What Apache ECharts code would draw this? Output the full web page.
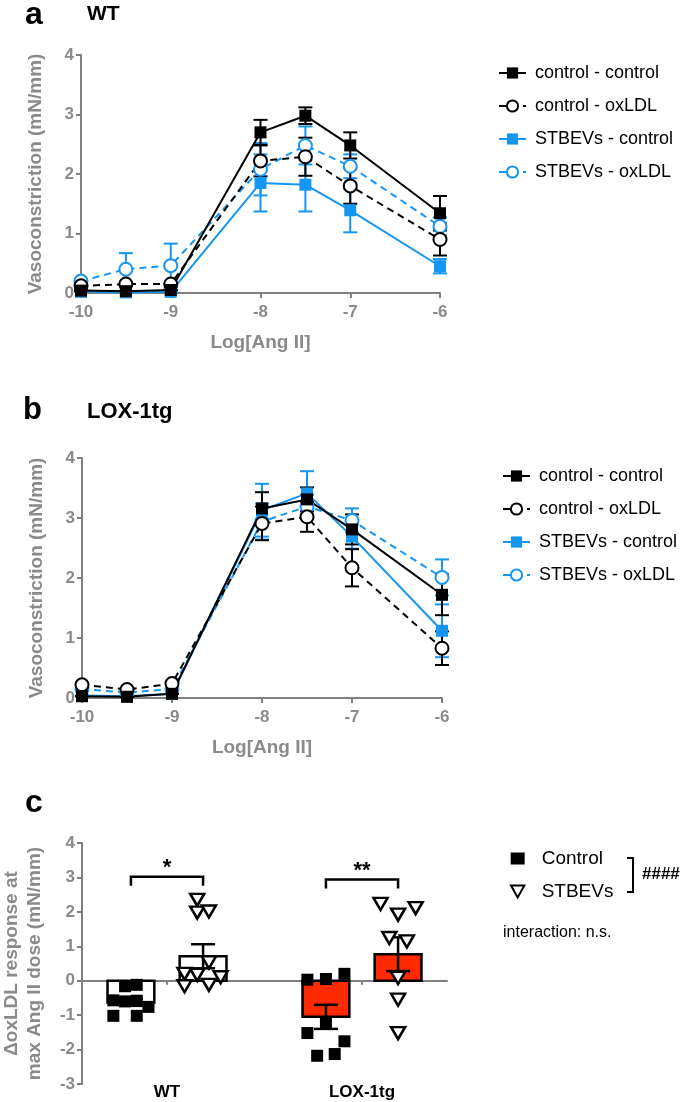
<!DOCTYPE html>
<html lang="en">
  <head>
    <meta charset="utf-8" />
    <title>Vasoconstriction – WT / LOX-1tg</title>
    <style>
      * {
        margin: 0;
        padding: 0;
      }
      body {
        background: #fff;
      }
      #chart-container {
        width: 685px;
        height: 1102px;
      }
    </style>
  </head>

  <body>
    <div id="chart-container"></div>
    <script src="https://cdn.jsdelivr.net/npm/echarts@6/dist/echarts.min.js"></script>
    <script>
      // ---- data ----
      var doses = [-10, -9.5, -9, -8, -7.5, -7, -6];
      var seriesNames = ["control - control", "control - oxLDL", "STBEVs - control", "STBEVs - oxLDL"];

      // panel a: WT
      var wtCC = [0.04, 0.03, 0.05, 2.7, 2.98, 2.48, 1.34];
      var wtCCErr = [0, 0, 0, 0.21, 0.14, 0.22, 0.29];
      var wtCO = [0.12, 0.15, 0.15, 2.22, 2.29, 1.8, 0.9];
      var wtCOErr = [0, 0, 0, 0.26, 0.32, 0.3, 0.27];
      var wtSC = [0.02, 0.01, 0.02, 1.85, 1.82, 1.39, 0.45];
      var wtSCErr = [0, 0, 0, 0.48, 0.45, 0.37, 0.12];
      var wtSO = [0.2, 0.4, 0.46, 2.08, 2.48, 2.13, 1.12];
      var wtSOErr = [0, 0.27, 0.37, 0.44, 0.32, 0.2, 0.15];

      // panel b: LOX-1tg
      var lxCC = [0.03, 0.02, 0.07, 3.16, 3.31, 2.81, 1.72];
      var lxCCErr = [0, 0, 0, 0.27, 0.2, 0.25, 0.34];
      var lxCO = [0.22, 0.14, 0.24, 2.91, 3.02, 2.17, 0.83];
      var lxCOErr = [0, 0, 0, 0.28, 0.25, 0.31, 0.28];
      var lxSC = [0.04, 0.03, 0.07, 3.13, 3.41, 2.69, 1.12];
      var lxSCErr = [0, 0, 0, 0.44, 0.37, 0.2, 0.44];
      var lxSO = [0.15, 0.09, 0.15, 2.94, 3.19, 2.96, 2.01];
      var lxSOErr = [0, 0, 0, 0.3, 0.2, 0.2, 0.3];

      // panel c: delta oxLDL response
      var groups = ["WT", "LOX-1tg"];
      var groupPos = [1, 3];
      var conditions = ["Control", "STBEVs"];
      var condOffset = [-0.37, 0.37];
      var controlMean = [-0.63, -1.05];
      var controlSem = [0.1, 0.35];
      var stbevMean = [0.71, 0.77];
      var stbevSem = [0.35, 0.49];
      // [horizontal jitter, value]
      var wtControlPts = [[-0.06, -0.16], [0.06, -0.12], [-0.18, -0.57], [-0.06, -0.6], [0.06, -0.58], [0.18, -0.76], [-0.18, -1.02], [0.06, -1.02]];
      var wtStbevPts = [[-0.06, 2.35], [-0.06, 1.98], [0.06, 2.01], [0.06, 0.53], [-0.19, 0.2], [-0.06, 0.17], [0.18, 0.1], [-0.19, -0.16], [0.06, -0.12]];
      var lxControlPts = [[-0.19, 0.03], [0, 0.05], [0.19, 0.2], [0, -1.23], [-0.19, -1.52], [0.19, -1.76], [-0.09, -2.18], [0.09, -2.13]];
      var lxStbevPts = [[-0.18, 2.23], [0.18, 2.11], [0, 1.92], [-0.09, 1.24], [0.09, 1.14], [0, 0.08], [0, -0.55], [0, -1.52]];
      var sigHeights = [3.02, 2.94];
      var sigLabels = ["*", "**"];

      // ---- styles ----
      var FONT = "Liberation Sans, Arial, Helvetica, sans-serif";
      var GRAY = "#808080";
      var LABEL_GRAY = "#8a8a8a";
      var BLUE = "#1596f2";
      var groupFill = { WT: "#ffffff", "LOX-1tg": "#ff2a00" };
      var barHalf = 0.24;

      var dom = document.getElementById("chart-container");
      var myChart = echarts.init(dom, null, { renderer: "canvas" });

      function errRender(color) {
        return function (params, api) {
          var x = api.value(0);
          var p = api.coord([x, api.value(2)]);
          var q = api.coord([x, api.value(1)]);
          var w = 7;
          var st = { stroke: color, lineWidth: 2 };
          return {
            type: "group",
            children: [
              { type: "line", shape: { x1: p[0], y1: p[1], x2: q[0], y2: q[1] }, style: st },
              { type: "line", shape: { x1: p[0] - w, y1: p[1], x2: p[0] + w, y2: p[1] }, style: st },
              { type: "line", shape: { x1: q[0] - w, y1: q[1], x2: q[0] + w, y2: q[1] }, style: st },
            ],
          };
        };
      }

      function panelSeries(idx, sets) {
        var out = [];
        // draw blue first, black on top
        [3, 2, 1, 0].forEach(function (k) {
          var s = sets[k];
          var color = k < 2 ? "#000" : BLUE;
          var open = k % 2 === 1;
          out.push({
            type: "custom",
            xAxisIndex: idx,
            yAxisIndex: idx,
            z: 2,
            renderItem: errRender(color),
            encode: { x: 0, y: [1, 2] },
            data: doses.map(function (d, i) {
              return [d, s[0][i] - s[1][i], s[0][i] + s[1][i]];
            }),
          });
          out.push({
            name: seriesNames[k],
            type: "line",
            xAxisIndex: idx,
            yAxisIndex: idx,
            z: 3,
            symbol: open ? "circle" : "rect",
            symbolSize: open ? 13 : 12,
            showAllSymbol: true,
            lineStyle: { color: color, width: 2, type: open ? [7, 5] : "solid" },
            itemStyle: open
              ? { color: "#fff", borderColor: color, borderWidth: 2 }
              : { color: color, borderWidth: 0 },
            data: doses.map(function (d, i) {
              return [d, s[0][i]];
            }),
          });
        });
        return out;
      }

      var axisLineStyle = { lineStyle: { color: GRAY, width: 2 } };
      var tickLabel = { color: LABEL_GRAY, fontWeight: "bold", fontSize: 17, fontFamily: FONT };
      var nameText = { color: LABEL_GRAY, fontWeight: "bold", fontSize: 19, fontFamily: FONT };

      function doseAxis(idx) {
        return {
          gridIndex: idx,
          type: "value",
          min: -10,
          max: -6,
          interval: 1,
          name: "Log[Ang II]",
          nameLocation: "middle",
          nameGap: 40,
          nameTextStyle: nameText,
          axisLine: axisLineStyle,
          axisTick: { lineStyle: { color: GRAY, width: 2 }, length: 5 },
          axisLabel: Object.assign({ margin: 11 }, tickLabel),
          splitLine: { show: false },
        };
      }

      function vasoAxis(idx) {
        return {
          gridIndex: idx,
          type: "value",
          min: 0,
          max: 4,
          interval: 1,
          name: "Vasoconstriction (mN/mm)",
          nameLocation: "middle",
          nameGap: 36,
          nameTextStyle: nameText,
          axisLine: { show: true, onZero: false, lineStyle: { color: GRAY, width: 2 } },
          axisTick: { show: true, lineStyle: { color: GRAY, width: 2 }, length: 5 },
          axisLabel: Object.assign({ margin: 7 }, tickLabel),
          splitLine: { show: false },
        };
      }

      var cMin = 1 - 85 / 97.5;
      var cMax = 3 + 85 / 97.5;

      // bars + sem for panel c
      var barData = [];
      groups.forEach(function (g, gi) {
        barData.push([groupPos[gi] + condOffset[0], controlMean[gi], controlSem[gi], gi]);
        barData.push([groupPos[gi] + condOffset[1], stbevMean[gi], stbevSem[gi], gi]);
      });

      function renderBar(params, api) {
        var x = api.value(0);
        var m = api.value(1);
        var s = api.value(2);
        var g = groups[api.value(3)];
        var a = api.coord([x - barHalf, 0]);
        var b = api.coord([x + barHalf, m]);
        var top = api.coord([x, m + s]);
        var bot = api.coord([x, m - s]);
        var w = 12;
        var st = { stroke: "#000", lineWidth: 2.5 };
        return {
          type: "group",
          children: [
            {
              type: "rect",
              shape: { x: a[0], y: Math.min(a[1], b[1]), width: b[0] - a[0], height: Math.abs(b[1] - a[1]) },
              style: { fill: groupFill[g], stroke: "#000", lineWidth: 2.5 },
            },
            { type: "line", shape: { x1: top[0], y1: top[1], x2: bot[0], y2: bot[1] }, style: st },
            { type: "line", shape: { x1: top[0] - w, y1: top[1], x2: top[0] + w, y2: top[1] }, style: st },
            { type: "line", shape: { x1: bot[0] - w, y1: bot[1], x2: bot[0] + w, y2: bot[1] }, style: st },
          ],
        };
      }

      function renderSig(params, api) {
        var gx = api.value(0);
        var h = api.value(1);
        var p1 = api.coord([gx + condOffset[0], h - 0.26]);
        var p2 = api.coord([gx + condOffset[0], h]);
        var p3 = api.coord([gx + condOffset[1], h]);
        var p4 = api.coord([gx + condOffset[1], h - 0.26]);
        var mid = api.coord([gx, h]);
        return {
          type: "group",
          children: [
            {
              type: "polyline",
              shape: { points: [p1, p2, p3, p4] },
              style: { stroke: "#000", lineWidth: 2.5, fill: null },
            },
            {
              type: "text",
              x: mid[0],
              y: mid[1] + 2,
              style: {
                text: sigLabels[params.dataIndex],
                fontSize: 22,
                fontWeight: "bold",
                fontFamily: FONT,
                fill: "#000",
                align: "center",
                verticalAlign: "bottom",
              },
            },
          ],
        };
      }

      function placePts(pts, gi, ci) {
        return pts.map(function (p) {
          return [groupPos[gi] + condOffset[ci] + p[0], p[1]];
        });
      }

      var legendText = { fontSize: 18, fontFamily: FONT, color: "#000", padding: [0, 0, 0, 4] };

      var series = []
        .concat(panelSeries(0, [[wtCC, wtCCErr], [wtCO, wtCOErr], [wtSC, wtSCErr], [wtSO, wtSOErr]]))
        .concat(panelSeries(1, [[lxCC, lxCCErr], [lxCO, lxCOErr], [lxSC, lxSCErr], [lxSO, lxSOErr]]))
        .concat([
          {
            type: "custom",
            xAxisIndex: 2,
            yAxisIndex: 2,
            z: 2,
            renderItem: renderBar,
            encode: { x: 0, y: 1 },
            data: barData,
          },
          {
            name: conditions[0],
            type: "scatter",
            xAxisIndex: 2,
            yAxisIndex: 2,
            z: 4,
            symbol: "rect",
            symbolSize: 12,
            itemStyle: { color: "#000", opacity: 1 },
            data: placePts(wtControlPts, 0, 0).concat(placePts(lxControlPts, 1, 0)),
          },
          {
            name: conditions[1],
            type: "scatter",
            xAxisIndex: 2,
            yAxisIndex: 2,
            z: 4,
            symbol: "path://M0,0L10,0L5,9Z",
            symbolSize: [14, 12],
            itemStyle: { color: "#fff", borderColor: "#000", borderWidth: 2.5, opacity: 1 },
            data: placePts(wtStbevPts, 0, 1).concat(placePts(lxStbevPts, 1, 1)),
          },
          {
            type: "custom",
            xAxisIndex: 2,
            yAxisIndex: 2,
            z: 5,
            renderItem: renderSig,
            encode: { x: 0, y: 1 },
            data: groupPos.map(function (g, i) {
              return [g, sigHeights[i]];
            }),
          },
        ]);

      var option = {
        animation: false,
        backgroundColor: "#fff",
        grid: [
          { left: 81, top: 55, width: 359, height: 238, outerBoundsMode: "none" },
          { left: 82, top: 458, width: 360, height: 240, outerBoundsMode: "none" },
          { left: 82, top: 843, width: 365, height: 241, outerBoundsMode: "none" },
        ],
        xAxis: [
          doseAxis(0),
          doseAxis(1),
          {
            gridIndex: 2,
            type: "value",
            min: cMin,
            max: cMax,
            position: "bottom",
            axisLine: { onZero: true, lineStyle: { color: GRAY, width: 2 } },
            axisTick: { show: true, customValues: groupPos, length: 4, lineStyle: { color: GRAY, width: 2 } },
            axisLabel: { show: false },
            splitLine: { show: false },
          },
          {
            gridIndex: 2,
            type: "value",
            min: cMin,
            max: cMax,
            position: "bottom",
            axisLine: { show: false, onZero: false },
            axisTick: { show: false },
            axisLabel: {
              customValues: groupPos,
              margin: 0,
              color: "#000",
              fontWeight: "bold",
              fontSize: 17,
              fontFamily: FONT,
              formatter: function (v) {
                var i = groupPos.indexOf(v);
                return i >= 0 ? groups[i] : "";
              },
            },
            splitLine: { show: false },
          },
        ],
        yAxis: [
          vasoAxis(0),
          vasoAxis(1),
          {
            gridIndex: 2,
            type: "value",
            min: -3,
            max: 4,
            interval: 1,
            name: "\u0394oxLDL response at\nmax Ang II dose (mN/mm)",
            nameLocation: "middle",
            nameGap: 36,
            nameTextStyle: Object.assign({ lineHeight: 23 }, nameText),
            axisLine: { show: true, onZero: false, lineStyle: { color: GRAY, width: 2 } },
            axisTick: { show: true, lineStyle: { color: GRAY, width: 2 }, length: 5 },
            axisLabel: Object.assign({ margin: 7 }, tickLabel),
            splitLine: { show: false },
          },
        ],
        legend: [
          {
            data: seriesNames,
            orient: "vertical",
            left: 493,
            top: 59,
            itemWidth: 27,
            itemHeight: 14,
            itemGap: 15,
            selectedMode: false,
            textStyle: legendText,
          },
          {
            data: seriesNames,
            orient: "vertical",
            left: 497,
            top: 462,
            itemWidth: 27,
            itemHeight: 14,
            itemGap: 15,
            selectedMode: false,
            textStyle: legendText,
          },
          {
            data: conditions,
            orient: "vertical",
            left: 505,
            top: 844,
            itemWidth: 14,
            itemHeight: 12,
            itemGap: 14,
            selectedMode: false,
            textStyle: { fontSize: 19, fontFamily: FONT, color: "#000", padding: [0, 0, 0, 12] },
          },
        ],
        graphic: [
          { type: "text", x: 25, y: 15, style: { text: "a", fontSize: 32, fontWeight: "bold", fontFamily: FONT, fill: "#000", verticalAlign: "middle" } },
          { type: "text", x: 87, y: 14, style: { text: "WT", fontSize: 21, fontWeight: "bold", fontFamily: FONT, fill: "#000", verticalAlign: "middle" } },
          { type: "text", x: 23, y: 410, style: { text: "b", fontSize: 31, fontWeight: "bold", fontFamily: FONT, fill: "#000", verticalAlign: "middle" } },
          { type: "text", x: 87, y: 412, style: { text: "LOX-1tg", fontSize: 22, fontWeight: "bold", fontFamily: FONT, fill: "#000", verticalAlign: "middle" } },
          { type: "text", x: 25, y: 803, style: { text: "c", fontSize: 32, fontWeight: "bold", fontFamily: FONT, fill: "#000", verticalAlign: "middle" } },
          {
            type: "polyline",
            shape: { points: [[627, 858], [633, 858], [633, 892], [627, 892]] },
            style: { stroke: "#000", lineWidth: 2, fill: null },
          },
          { type: "text", x: 642, y: 874, style: { text: "####", fontSize: 17, fontWeight: "bold", fontFamily: FONT, fill: "#000", verticalAlign: "middle" } },
          { type: "text", x: 503, y: 933, style: { text: "interaction: n.s.", fontSize: 16, fontFamily: FONT, fill: "#000", verticalAlign: "middle" } },
        ],
        series: series,
      };

      myChart.setOption(option);
      window.addEventListener("resize", myChart.resize);
    </script>
  </body>
</html>
